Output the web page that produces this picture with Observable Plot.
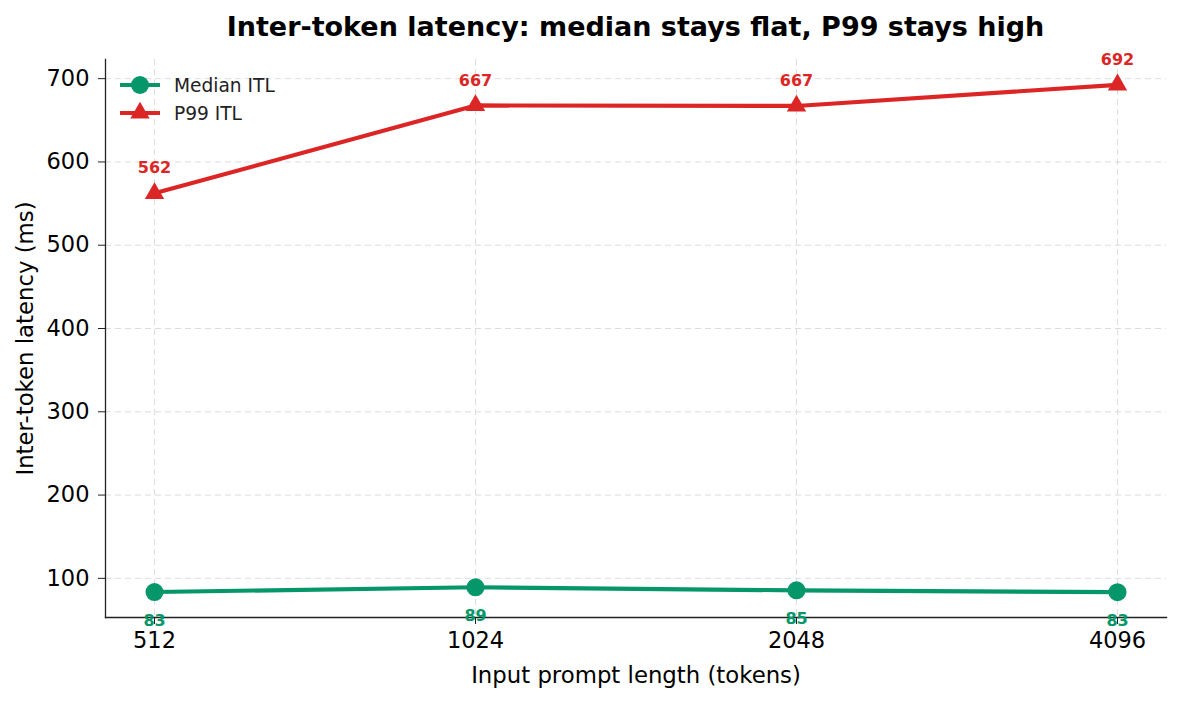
<!DOCTYPE html>
<html>
<head>
<meta charset="utf-8">
<script src="https://cdn.jsdelivr.net/npm/d3@7"></script>
<script src="https://cdn.jsdelivr.net/npm/@observablehq/plot@0.6"></script>
<style>
  body { margin: 0; background: #fff; font-family: "DejaVu Sans", sans-serif; }
  #wrap { position: relative; width: 1181px; height: 701px; }
  #title { height: 45px; line-height: 54px; margin-left: 105px; width: 1061px; text-align: center; font-weight: bold; font-size: 27px; color: #000; white-space: nowrap; }
  #legend { position: absolute; left: 118px; top: 71px; font-size: 18.6px; color: #222; }
  #legend .row { display: flex; align-items: center; height: 28px; }
  #legend svg { margin-right: 12px; }
</style>
</head>
<body>
<div id="wrap">
  <div id="title">Inter-token latency: median stays flat, P99 stays high</div>
  <div id="chart"></div>
  <div id="legend"></div>
</div>
<script>
const promptLengths = ["512", "1024", "2048", "4096"];
const medianITL = [83.6, 89.3, 85.6, 83.4];
const p99ITL = [562.3, 667.8, 667.2, 692.6];
const yTicks = [100, 200, 300, 400, 500, 600, 700];

const green = "#059669";
const red = "#dc2626";

const medianData = promptLengths.map((x, i) => ({x, y: medianITL[i]}));
const p99Data = promptLengths.map((x, i) => ({x, y: p99ITL[i]}));
const fmt = v => String(Math.floor(v));

const chart = Plot.plot({
  width: 1181,
  height: 656,
  marginTop: 14,
  marginBottom: 84,
  marginLeft: 105,
  marginRight: 15,
  style: {fontFamily: "DejaVu Sans, sans-serif", background: "#fff", color: "#000"},
  x: {type: "point", domain: promptLengths, padding: 0.15},
  y: {domain: [53, 723]},
  marks: [
    Plot.gridY(yTicks, {stroke: "#cfcfcf", strokeOpacity: 0.7, strokeDasharray: "6,4", strokeWidth: 1}),
    Plot.gridX(promptLengths, {stroke: "#cfcfcf", strokeOpacity: 0.7, strokeDasharray: "6,4", strokeWidth: 1}),
    Plot.line(p99Data, {x: "x", y: "y", stroke: red, strokeWidth: 4.2}),
    Plot.line(medianData, {x: "x", y: "y", stroke: green, strokeWidth: 4.2}),
    Plot.dot(p99Data, {x: "x", y: "y", symbol: "triangle", r: 7.2, fill: red, stroke: "none"}),
    Plot.dot(medianData, {x: "x", y: "y", r: 9, fill: green, stroke: "none"}),
    Plot.axisY(yTicks, {tickSize: 7, tickPadding: 9, fontSize: 22.5, stroke: "#222", fill: "#000",
      label: null}),
    Plot.axisX(promptLengths, {tickSize: 7, tickPadding: 8, fontSize: 22.5, stroke: "#222", fill: "#000",
      label: null}),
    Plot.frame({anchor: "left", stroke: "#222", strokeWidth: 1.3}),
    Plot.frame({anchor: "bottom", stroke: "#222", strokeWidth: 1.3}),
    Plot.text(p99Data, {x: "x", y: "y", text: d => fmt(d.y), dy: -25, fill: red, fontSize: 16, fontWeight: "bold"}),
    Plot.text(medianData, {x: "x", y: "y", text: d => fmt(d.y), dy: 29, fill: green, fontSize: 16, fontWeight: "bold"}),
    Plot.text(["Input prompt length (tokens)"], {frameAnchor: "bottom", lineAnchor: "middle", textAnchor: "middle", dy: 58, fontSize: 22.8, fill: "#000"}),
    Plot.text(["Inter-token latency (ms)"], {frameAnchor: "left", textAnchor: "middle", lineAnchor: "middle", dx: -80, rotate: -90, fontSize: 22.8, fill: "#000"})
  ]
});
document.getElementById("chart").appendChild(chart);

const legendItems = [
  {label: "Median ITL", color: green, shape: "circle"},
  {label: "P99 ITL", color: red, shape: "triangle"}
];
const legend = d3.select("#legend");
for (const item of legendItems) {
  const row = legend.append("div").attr("class", "row");
  const s = row.append("svg").attr("width", 44).attr("height", 24);
  s.append("line").attr("x1", 2).attr("x2", 42).attr("y1", 12).attr("y2", 12)
    .attr("stroke", item.color).attr("stroke-width", 4.2);
  if (item.shape === "circle") {
    s.append("circle").attr("cx", 22).attr("cy", 12).attr("r", 9).attr("fill", item.color);
  } else {
    s.append("path").attr("transform", "translate(22,12)")
      .attr("d", d3.symbol(d3.symbolTriangle, Math.PI * 7.2 * 7.2)()).attr("fill", item.color);
  }
  row.append("span").text(item.label);
}
</script>
</body>
</html>
